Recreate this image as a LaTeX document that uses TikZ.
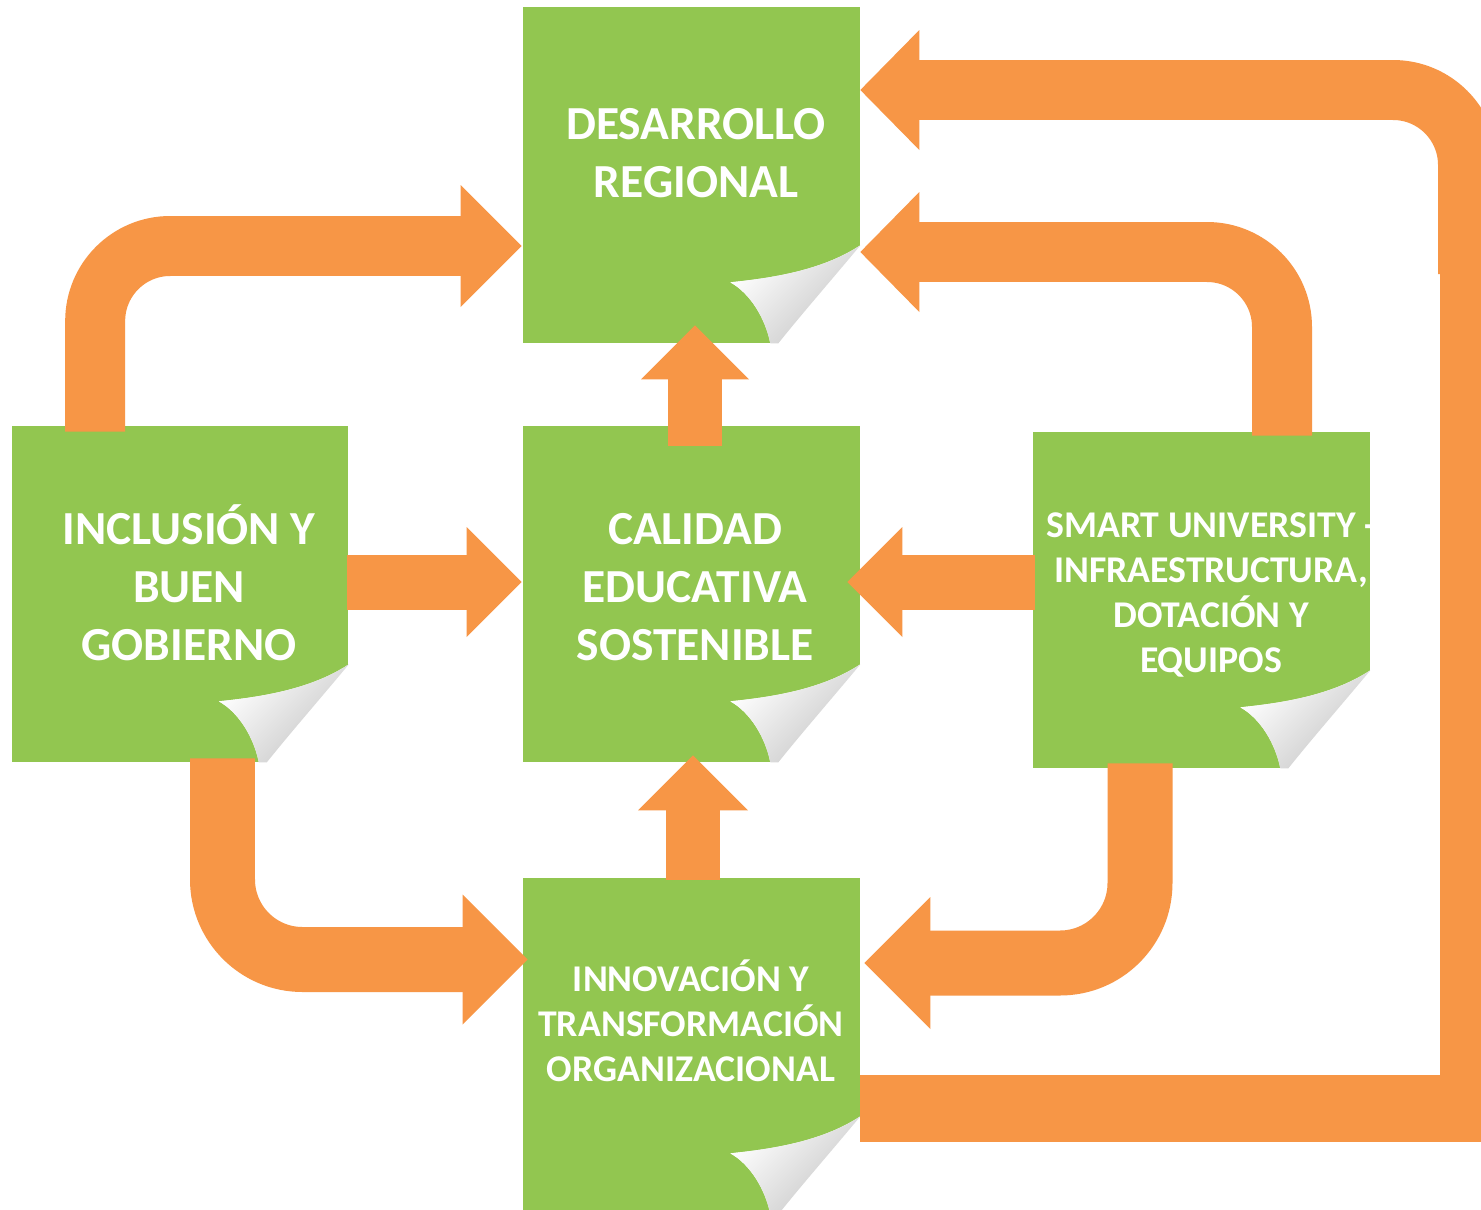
\documentclass[tikz,border=0pt]{standalone}
\usepackage{fontspec}
\setmainfont{Carlito}
\usetikzlibrary{calc}

\definecolor{leafgreen}{HTML}{92C650}
\definecolor{flowora}{HTML}{F79646}

% peeled corner of a green sheet
\newcommand{\pagecurl}[1]{%
  \begin{scope}[shift={(#1.south east)}]
    \fill[white] (-90,0) .. controls (-95,-25) and (-110,-50) .. (-130,-61)
      .. controls (-80,-66) and (-35,-75) .. (0,-98) -- (0,0) -- cycle;
    \shade[top color=white, middle color=gray!6, bottom color=gray!45, shading angle=45]
      (-90,0) .. controls (-95,-25) and (-110,-50) .. (-130,-61)
      .. controls (-80,-66) and (-35,-75) .. (0,-98)
      .. controls (-30,-62) and (-58,-30) .. (-82,0) -- cycle;
  \end{scope}}

\begin{document}
\begin{tikzpicture}[
    x=0.02cm, y=-0.02cm,
    box/.style={rectangle, fill=leafgreen, minimum width=6.74cm, minimum height=6.72cm, inner sep=0pt},
    bigtxt/.style={text=white, font=\bfseries\fontsize{27}{33}\selectfont, align=center},
    smalltxt/.style={text=white, font=\bfseries\fontsize{21.5}{25.6}\selectfont, align=center},
    band/.style={draw=flowora, line width=1.2cm, rounded corners=1.5cm},
    wideband/.style={draw=flowora, line width=1.3cm, rounded corners=1.6cm},
    tipfill/.style={fill=flowora}
]
    \fill[white] (0,0) rectangle (1481,1210);
    \useasboundingbox (0,0) rectangle (1481,1210);

    \node[box] (des) at (691.5,175) {};
    \node[box] (incl) at (180,594) {};
    \node[box] (cal) at (691.5,594) {};
    \node[box] (smart) at (1201.5,600) {};
    \node[box] (innov) at (691.5,1046) {};

    \pagecurl{des}
    \pagecurl{incl}
    \pagecurl{cal}
    \pagecurl{smart}
    \pagecurl{innov}

    \coordinate (turn) at (1473,270);

    % inclusion -> desarrollo
    \draw[band] ($(incl.north west)+(84,6)$) |- ($(des.west)+(-58,71)$);
    \fill[tipfill] ($(des.west)+(-1,71)$) -- ++(-61,-61) -- ++(0,122) -- cycle;
    % inclusion -> calidad
    \draw[band, line width=1.1cm] ($(incl.east)+(-2,-12)$) -- ($(cal.west)+(-52,-12)$);
    \fill[tipfill] ($(cal.west)+(-1,-12)$) -- ++(-55,-55) -- ++(0,110) -- cycle;
    % calidad -> desarrollo
    \draw[band, line width=1.08cm] ($(cal.north)+(3.5,20)$) -- ($(des.south)+(3.5,34)$);
    \fill[tipfill] ($(des.south)+(3.5,-18)$) -- ++(-54,54) -- ++(108,0) -- cycle;
    % smart -> calidad
    \draw[band, line width=1.1cm] ($(smart.west)+(2,-18)$) -- ($(cal.east)+(38,-12)$);
    \fill[tipfill] ($(cal.east)+(-13,-12)$) -- ++(55,-55) -- ++(0,110) -- cycle;
    % smart -> desarrollo
    \draw[band] ($(smart.north)+(80.5,4)$) |- ($(des.east)+(55,77)$);
    \fill[tipfill] ($(des.east)+(0,77)$) -- ++(59,-60) -- ++(0,120) -- cycle;
    % innovacion -> desarrollo (outer loop)
    \draw[draw=flowora, line width=1.34cm] ($(innov.east)+(0,62.5)$) -| (turn);
    \draw[band] ($(turn)+(-5,4)$) |- ($(des.east)+(55,-85)$);
    \fill[tipfill] ($(des.east)+(0,-85)$) -- ++(59,-60) -- ++(0,120) -- cycle;
    % inclusion -> innovacion
    \draw[wideband] ($(incl.south)+(42.5,-4)$) |- ($(innov.west)+(-53,-86.5)$);
    \fill[tipfill] ($(innov.west)+(5,-86.5)$) -- ++(-65,-65) -- ++(0,130) -- cycle;
    % smart -> innovacion
    \draw[wideband] ($(smart.south)+(-61.5,-5)$) |- ($(innov.east)+(66,-83)$);
    \fill[tipfill] ($(innov.east)+(4,-83)$) -- ++(66,-66) -- ++(0,132) -- cycle;
    % innovacion -> calidad
    \draw[band, line width=1.08cm] ($(innov.north)+(1.5,2)$) -- ($(cal.south)+(1.5,44)$);
    \fill[tipfill] ($(cal.south)+(1.5,-7)$) -- ++(-55,55) -- ++(110,0) -- cycle;

    \node[bigtxt] (des-t) at (696,153) {DESARROLLO\\REGIONAL};
    \node[bigtxt] (incl-t) at (189,583) {INCLUSIÓN Y\\BUEN\\GOBIERNO};
    \node[bigtxt] (cal-t) at (695,587) {CALIDAD\\EDUCATIVA\\SOSTENIBLE};
    \node[smalltxt] (smart-t) at (1211,595) {SMART UNIVERSITY -\\INFRAESTRUCTURA,\\DOTACIÓN Y\\EQUIPOS};
    \node[smalltxt] (innov-t) at (691,1021) {INNOVACIÓN Y\\TRANSFORMACIÓN\\ORGANIZACIONAL};
\end{tikzpicture}
\end{document}
